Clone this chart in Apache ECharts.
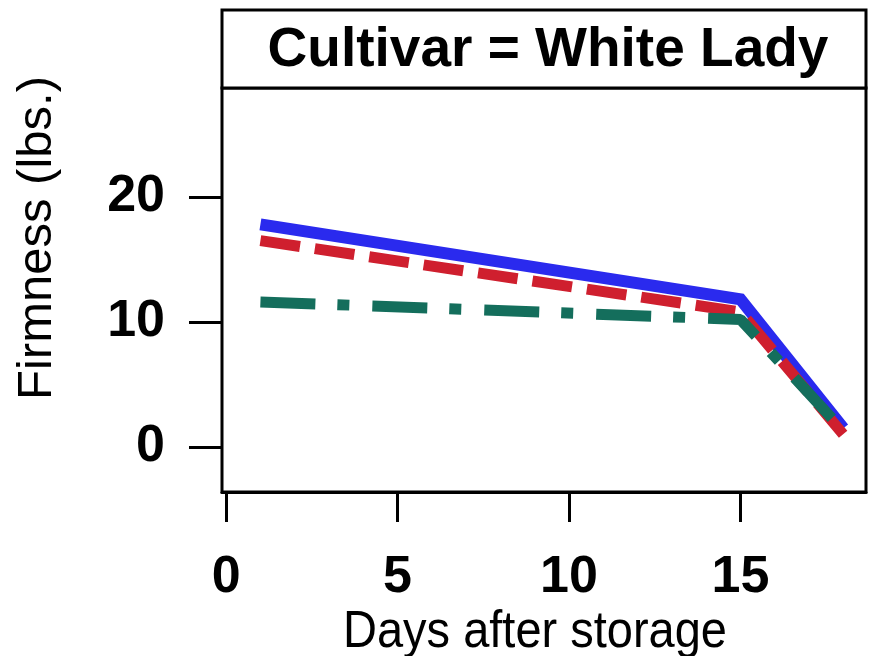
<!DOCTYPE html>
<html>
<head>
<meta charset="utf-8">
<script src="https://cdn.jsdelivr.net/npm/echarts@6/dist/echarts.min.js"></script>
<style>
html,body{margin:0;padding:0;background:#fff;}
#chart{width:881px;height:656px;}
</style>
</head>
<body>
<div id="chart"></div>
<script>
var panelTitle = 'Cultivar = White Lady';
var xTitle = 'Days after storage';
var yTitle = 'Firmness (lbs.)';
var days = [1, 15, 18];
var seriesA = [17.8, 11.8, 1.5];
var seriesB = [16.5, 10.8, 1.0];
var seriesC = [11.6, 10.2, 1.3];
var xTicks = [0, 5, 10, 15];
var yTicks = [0, 10, 20];

function pairs(xs, ys) { return xs.map(function (x, i) { return [x, ys[i]]; }); }

var chart = echarts.init(document.getElementById('chart'), null, {renderer: 'canvas'});
var font = 'Liberation Sans, Arial, sans-serif';
chart.setOption({
  animation: false,
  backgroundColor: '#ffffff',
  grid: {left: 222, right: 15, top: 88, bottom: 164, show: true, borderColor: '#000', borderWidth: 3, backgroundColor: 'transparent'},
  xAxis: {
    type: 'value', min: -0.12, max: 18.66,
    splitLine: {show: false},
    axisLine: {show: true, onZero: false, lineStyle: {color: '#000', width: 3}},
    axisTick: {show: true, length: 30, lineStyle: {color: '#000', width: 3}, customValues: xTicks},
    axisLabel: {customValues: xTicks, margin: 60, fontSize: 52, fontWeight: 'bold', color: '#000', fontFamily: font}
  },
  yAxis: {
    type: 'value', min: -3.6, max: 28.7,
    splitLine: {show: false},
    axisLine: {show: true, onZero: false, lineStyle: {color: '#000', width: 2}},
    axisTick: {show: true, length: 33, lineStyle: {color: '#000', width: 3}, customValues: yTicks},
    axisLabel: {customValues: yTicks, margin: 57, fontSize: 52, fontWeight: 'bold', color: '#000', fontFamily: font}
  },
  graphic: [
    {type: 'rect', shape: {x: 222, y: 10, width: 644, height: 78}, style: {fill: '#fff', stroke: '#000', lineWidth: 3}},
    {type: 'text', x: 548, y: 51, style: {text: panelTitle, font: 'bold 55px ' + font, fill: '#000', align: 'center', verticalAlign: 'middle'}},
    {type: 'text', x: 535, y: 632, scaleY: 1.12, style: {text: xTitle, font: '47px ' + font, fill: '#000', align: 'center', verticalAlign: 'middle'}},
    {type: 'text', x: 37, y: 238, rotation: Math.PI / 2, style: {text: yTitle, font: '49px ' + font, fill: '#000', align: 'center', verticalAlign: 'middle'}}
  ],
  series: [
    {type: 'line', data: pairs(days, seriesA), symbol: 'none', lineStyle: {color: '#2a2aee', width: 12, cap: 'butt', join: 'miter'}, z: 3},
    {type: 'line', data: pairs(days, seriesB), symbol: 'none', lineStyle: {color: '#cf1f2e', width: 11, type: [40, 15], cap: 'butt'}, z: 4},
    {type: 'line', data: pairs(days, seriesC), symbol: 'none', lineStyle: {color: '#146e5c', width: 11, type: [55, 22, 12, 23], cap: 'butt'}, z: 5}
  ]
});
</script>
</body>
</html>
